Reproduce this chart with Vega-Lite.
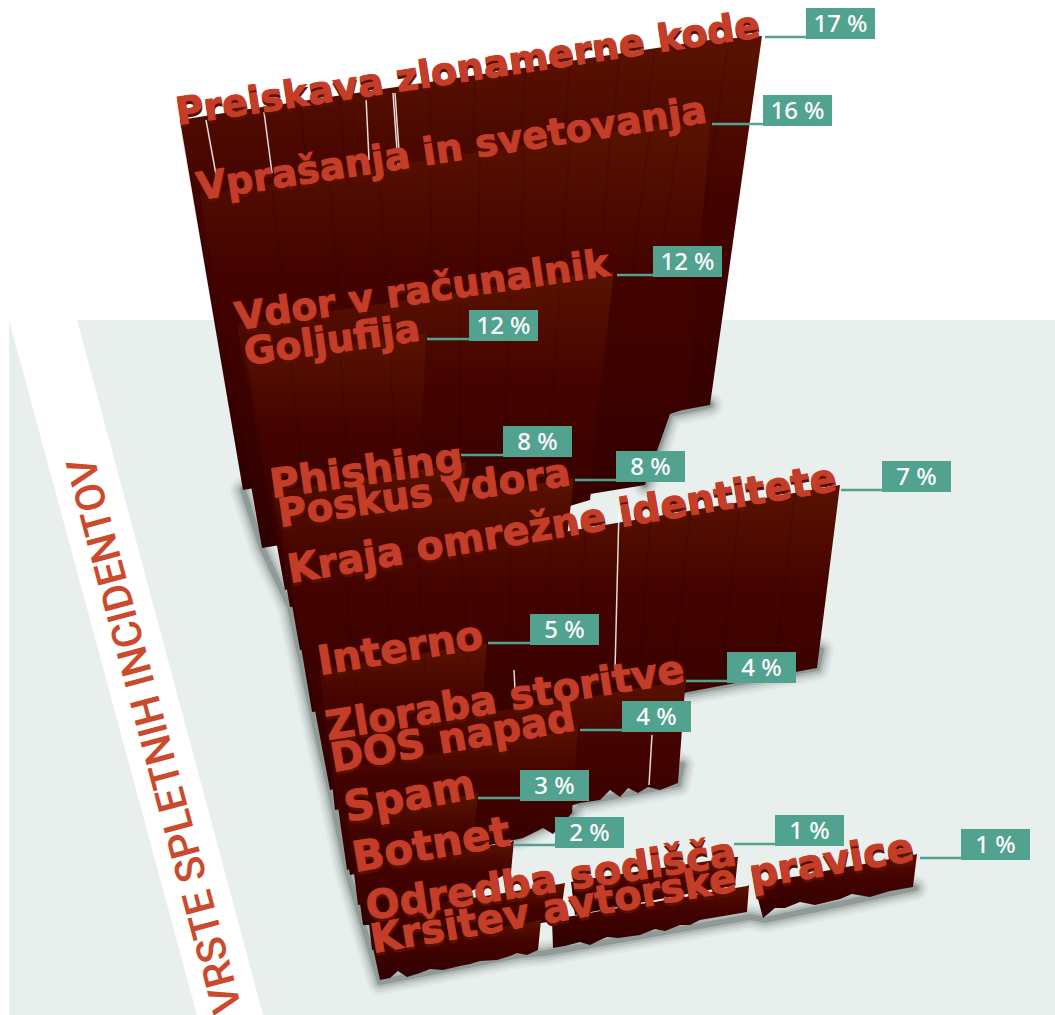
{
"$schema":"https://vega.github.io/schema/vega-lite/v6.json",
"width":1055,"height":1015,"padding":0,"autosize":{"type":"none"},
"background":"white",
"view":{"stroke":null},
"config":{"view":{"stroke":null}},
"datasets":{
"floor":[{"x":9,"x2":1055,"y":320,"y2":1015}],
"band":[{"y":320,"left":9,"right":77},{"y":1015,"left":197,"right":263}],
"heading":[{"t":"VRSTE SPLETNIH INCIDENTOV","x":82,"y":458}],
"edges":[
{"e":"a","x":243,"y":490},{"e":"a","x":262,"y":548},{"e":"a","x":290,"y":607},{"e":"a","x":312,"y":712},{"e":"a","x":330,"y":790},{"e":"a","x":347,"y":870},{"e":"a","x":363,"y":925},{"e":"a","x":380,"y":982},{"e":"a","x":520,"y":955},{"e":"a","x":545,"y":953},{"e":"a","x":750,"y":917},{"e":"a","x":765,"y":920},{"e":"a","x":915,"y":888},
{"e":"b","x":645,"y":485},{"e":"b","x":670,"y":414},{"e":"b","x":710,"y":405},
{"e":"c","x":688,"y":692},{"e":"c","x":817,"y":668},{"e":"c","x":821,"y":650},
{"e":"d","x":580,"y":803},{"e":"d","x":678,"y":784},{"e":"d","x":682,"y":765},
{"e":"f","x":517,"y":838},{"e":"f","x":572,"y":813}
],
"walls":[
{"p":"01","x":180,"top":120,"bottom":120},{"p":"01","x":243,"top":110,"bottom":490},{"p":"01","x":710,"top":40,"bottom":405},{"p":"01","x":762,"top":36,"bottom":36},
{"p":"02","x":200,"top":195,"bottom":195},{"p":"02","x":262,"top":185,"bottom":548},{"p":"02","x":645,"top":127,"bottom":485},{"p":"02","x":670,"top":123,"bottom":414},{"p":"02","x":688,"top":125,"bottom":408},{"p":"02","x":710,"top":122,"bottom":122},
{"p":"03","x":237,"top":325,"bottom":325},{"p":"03","x":285,"top":318,"bottom":590},{"p":"03","x":590,"top":273,"bottom":500},{"p":"03","x":614,"top":272,"bottom":272},
{"p":"04","x":246,"top":358,"bottom":358},{"p":"04","x":290,"top":352,"bottom":607},{"p":"04","x":415,"top":335,"bottom":590},{"p":"04","x":426,"top":333,"bottom":333},
{"p":"05","x":272,"top":492,"bottom":492},{"p":"05","x":300,"top":488,"bottom":650},{"p":"05","x":450,"top":465,"bottom":630},{"p":"05","x":466,"top":462,"bottom":462},
{"p":"06","x":280,"top":522,"bottom":522},{"p":"06","x":312,"top":517,"bottom":712},{"p":"06","x":550,"top":482,"bottom":680},{"p":"06","x":574,"top":478,"bottom":478},
{"p":"07","x":290,"top":578,"bottom":578},{"p":"07","x":330,"top":571,"bottom":790},{"p":"07","x":688,"top":511,"bottom":692},{"p":"07","x":817,"top":489,"bottom":668},{"p":"07","x":840,"top":485,"bottom":485},
{"p":"08","x":320,"top":670,"bottom":670},{"p":"08","x":335,"top":667,"bottom":810},{"p":"08","x":475,"top":645,"bottom":790},{"p":"08","x":487,"top":643,"bottom":643},
{"p":"09","x":328,"top":738,"bottom":738},{"p":"09","x":347,"top":735,"bottom":870},{"p":"09","x":580,"top":698,"bottom":803},{"p":"09","x":600,"top":695,"bottom":800},{"p":"09","x":610,"top":693,"bottom":790},{"p":"09","x":620,"top":691,"bottom":797},{"p":"09","x":628,"top":690,"bottom":788},{"p":"09","x":638,"top":688,"bottom":793},{"p":"09","x":648,"top":686,"bottom":787},{"p":"09","x":660,"top":685,"bottom":790},{"p":"09","x":678,"top":681,"bottom":783},{"p":"09","x":686,"top":676,"bottom":676},
{"p":"10","x":333,"top":770,"bottom":770},{"p":"10","x":350,"top":768,"bottom":875},{"p":"10","x":523,"top":738,"bottom":838},{"p":"10","x":543,"top":735,"bottom":828},{"p":"10","x":553,"top":733,"bottom":834},{"p":"10","x":572,"top":728,"bottom":813},{"p":"10","x":578,"top":724,"bottom":724},
{"p":"11","x":347,"top":818,"bottom":818},{"p":"11","x":358,"top":816,"bottom":905},{"p":"11","x":470,"top":795,"bottom":880},{"p":"11","x":478,"top":793,"bottom":793},
{"p":"12","x":355,"top":868,"bottom":868},{"p":"12","x":363,"top":866,"bottom":925},{"p":"12","x":400,"top":860,"bottom":925},{"p":"12","x":511,"top":842,"bottom":872},{"p":"12","x":514,"top":840,"bottom":840},
{"p":"13","x":368,"top":915,"bottom":915},{"p":"13","x":372,"top":914,"bottom":950},{"p":"13","x":560,"top":884,"bottom":920},{"p":"13","x":565,"top":883,"bottom":883},
{"p":"14","x":571,"top":882,"bottom":882},{"p":"14","x":575,"top":881,"bottom":915},{"p":"14","x":735,"top":857,"bottom":885},{"p":"14","x":738,"top":857,"bottom":857},
{"p":"15","x":373,"top":948,"bottom":948},{"p":"15","x":380,"top":947,"bottom":980},{"p":"15","x":390,"top":945,"bottom":978},{"p":"15","x":398,"top":944,"bottom":971},{"p":"15","x":407,"top":942,"bottom":977},{"p":"15","x":420,"top":940,"bottom":973},{"p":"15","x":430,"top":938,"bottom":969},{"p":"15","x":443,"top":936,"bottom":970},{"p":"15","x":460,"top":933,"bottom":966},{"p":"15","x":470,"top":932,"bottom":964},{"p":"15","x":480,"top":930,"bottom":961},{"p":"15","x":497,"top":928,"bottom":960},{"p":"15","x":510,"top":926,"bottom":956},{"p":"15","x":517,"top":924,"bottom":953},{"p":"15","x":527,"top":923,"bottom":955},{"p":"15","x":538,"top":921,"bottom":950},{"p":"15","x":541,"top":920,"bottom":920},
{"p":"16","x":552,"top":920,"bottom":920},{"p":"16","x":553,"top":919,"bottom":948},{"p":"16","x":565,"top":917,"bottom":946},{"p":"16","x":580,"top":915,"bottom":942},{"p":"16","x":590,"top":913,"bottom":945},{"p":"16","x":600,"top":911,"bottom":940},{"p":"16","x":607,"top":910,"bottom":937},{"p":"16","x":618,"top":908,"bottom":938},{"p":"16","x":640,"top":904,"bottom":935},{"p":"16","x":655,"top":902,"bottom":929},{"p":"16","x":665,"top":900,"bottom":931},{"p":"16","x":680,"top":898,"bottom":925},{"p":"16","x":690,"top":896,"bottom":925},{"p":"16","x":700,"top":894,"bottom":920},{"p":"16","x":747,"top":886,"bottom":912},{"p":"16","x":749,"top":885,"bottom":885},
{"p":"17","x":754,"top":884,"bottom":884},{"p":"17","x":763,"top":882,"bottom":918},{"p":"17","x":775,"top":880,"bottom":908},{"p":"17","x":785,"top":878,"bottom":908},{"p":"17","x":800,"top":876,"bottom":902},{"p":"17","x":815,"top":873,"bottom":905},{"p":"17","x":840,"top":868,"bottom":899},{"p":"17","x":852,"top":866,"bottom":894},{"p":"17","x":870,"top":863,"bottom":897},{"p":"17","x":890,"top":859,"bottom":891},{"p":"17","x":913,"top":855,"bottom":887},{"p":"17","x":917,"top":854,"bottom":854}
],
"seams":[
{"x":181,"y":125,"x2":244,"y2":490},{"x":300,"y":100,"x2":307,"y2":175},{"x":340,"y":95,"x2":345,"y2":170},{"x":430,"y":83,"x2":431,"y2":158},{"x":475,"y":76,"x2":474,"y2":150},{"x":525,"y":68,"x2":521,"y2":143},{"x":570,"y":61,"x2":564,"y2":136},{"x":620,"y":54,"x2":612,"y2":130},{"x":655,"y":49,"x2":645,"y2":125},{"x":728,"y":42,"x2":692,"y2":300},
{"x":272,"y":190,"x2":286,"y2":310},{"x":330,"y":180,"x2":339,"y2":300},{"x":380,"y":172,"x2":386,"y2":295},{"x":430,"y":165,"x2":432,"y2":290},{"x":480,"y":158,"x2":478,"y2":285},{"x":525,"y":150,"x2":519,"y2":280},{"x":570,"y":143,"x2":560,"y2":278},{"x":610,"y":137,"x2":600,"y2":275},{"x":650,"y":130,"x2":630,"y2":290},{"x":680,"y":128,"x2":654,"y2":300},
{"x":614,"y":275,"x2":590,"y2":480},{"x":460,"y":305,"x2":460,"y2":455},{"x":510,"y":298,"x2":503,"y2":460},{"x":560,"y":290,"x2":547,"y2":465},
{"x":290,"y":355,"x2":304,"y2":490},{"x":340,"y":348,"x2":349,"y2":480},{"x":390,"y":340,"x2":395,"y2":470},
{"x":345,"y":572,"x2":356,"y2":690},{"x":385,"y":565,"x2":395,"y2":680},{"x":418,"y":560,"x2":425,"y2":670},{"x":462,"y":553,"x2":468,"y2":660},{"x":510,"y":545,"x2":512,"y2":660},{"x":550,"y":538,"x2":548,"y2":670},{"x":585,"y":532,"x2":580,"y2":670},{"x":650,"y":520,"x2":640,"y2":670},{"x":690,"y":512,"x2":675,"y2":660},{"x":740,"y":503,"x2":722,"y2":665},{"x":795,"y":494,"x2":775,"y2":668}
],
"slits":[
{"x":206,"y":120,"x2":217,"y2":180},{"x":264,"y":112,"x2":272,"y2":173},{"x":366,"y":97,"x2":369,"y2":160},{"x":393,"y":93,"x2":398,"y2":165},{"x":395,"y":93,"x2":400,"y2":165},
{"x":619,"y":510,"x2":615,"y2":670},{"x":652,"y":735,"x2":649,"y2":785},{"x":514,"y":670,"x2":515,"y2":690}
],
"incidents":[
{"name":"Preiskava zlonamerne kode","share":17,"label":"17 %","x":178,"y":125,"boxX":840.5,"boxY":23.5,"lineFrom":765,"lineY":37},
{"name":"Vprašanja in svetovanja","share":16,"label":"16 %","x":199,"y":200,"boxX":797.5,"boxY":110.5,"lineFrom":712,"lineY":124},
{"name":"Vdor v računalnik","share":12,"label":"12 %","x":237,"y":330,"boxX":687.5,"boxY":261.5,"lineFrom":617,"lineY":275},
{"name":"Goljufija","share":12,"label":"12 %","x":246,"y":365,"boxX":503.5,"boxY":325.5,"lineFrom":427,"lineY":339},
{"name":"Phishing","share":8,"label":"8 %","x":272,"y":498,"boxX":537.5,"boxY":441.5,"lineFrom":461,"lineY":455},
{"name":"Poskus vdora","share":8,"label":"8 %","x":280,"y":527,"boxX":650.5,"boxY":466.5,"lineFrom":575,"lineY":480},
{"name":"Kraja omrežne identitete","share":7,"label":"7 %","x":290,"y":583,"boxX":916.5,"boxY":476.5,"lineFrom":841,"lineY":490},
{"name":"Interno","share":5,"label":"5 %","x":320,"y":675,"boxX":564.5,"boxY":629.5,"lineFrom":488,"lineY":643},
{"name":"Zloraba storitve","share":4,"label":"4 %","x":328,"y":740,"boxX":761.5,"boxY":667.5,"lineFrom":686,"lineY":681},
{"name":"DOS napad","share":4,"label":"4 %","x":333,"y":772,"boxX":656.5,"boxY":716.5,"lineFrom":580,"lineY":730},
{"name":"Spam","share":3,"label":"3 %","x":347,"y":822,"boxX":554.5,"boxY":785.5,"lineFrom":478,"lineY":798},
{"name":"Botnet","share":2,"label":"2 %","x":355,"y":872,"boxX":589.5,"boxY":832.5,"lineFrom":513,"lineY":845},
{"name":"Odredba sodišča","share":1,"label":"1 %","x":368,"y":920,"boxX":809.5,"boxY":830.5,"lineFrom":734,"lineY":844},
{"name":"Kršitev avtorske pravice","share":1,"label":"1 %","x":373,"y":953,"boxX":995.5,"boxY":844.5,"lineFrom":920,"lineY":858}
]},
"layer":[
{"data":{"name":"floor"},"mark":{"type":"rect","color":"#e9efed"},"encoding":{
"x":{"field":"x","type":"quantitative","scale":{"domain":[0,1055]},"axis":null},"x2":{"field":"x2"},
"y":{"field":"y","type":"quantitative","scale":{"domain":[1015,0]},"axis":null},"y2":{"field":"y2"}}},
{"data":{"name":"band"},"mark":{"type":"area","orient":"horizontal","color":"white"},"encoding":{
"x":{"field":"left","type":"quantitative","scale":{"domain":[0,1055]},"axis":null,"stack":false},"x2":{"field":"right"},
"y":{"field":"y","type":"quantitative","scale":{"domain":[1015,0]},"axis":null}}},
{"data":{"name":"heading"},"mark":{"type":"text","angle":255,"align":"right","baseline":"middle","font":"Roboto","fontWeight":500,"fontSize":41,"color":"#cb4a2c"},"encoding":{
"text":{"field":"t"},
"x":{"field":"x","type":"quantitative","scale":{"domain":[0,1055]},"axis":null},
"y":{"field":"y","type":"quantitative","scale":{"domain":[1015,0]},"axis":null}}},
{"data":{"name":"edges"},"mark":{"type":"line","color":"#20302f","strokeWidth":26,"opacity":0.04,"strokeCap":"round","strokeJoin":"round"},"encoding":{
"detail":{"field":"e"},
"x":{"field":"x","type":"quantitative","scale":{"domain":[0,1055]},"axis":null},
"y":{"field":"y","type":"quantitative","scale":{"domain":[1015,0]},"axis":null}}},
{"data":{"name":"edges"},"mark":{"type":"line","color":"#20302f","strokeWidth":21,"opacity":0.06,"strokeCap":"round","strokeJoin":"round"},"encoding":{
"detail":{"field":"e"},
"x":{"field":"x","type":"quantitative","scale":{"domain":[0,1055]},"axis":null},
"y":{"field":"y","type":"quantitative","scale":{"domain":[1015,0]},"axis":null}}},
{"data":{"name":"edges"},"mark":{"type":"line","color":"#20302f","strokeWidth":16,"opacity":0.08,"strokeCap":"round","strokeJoin":"round"},"encoding":{
"detail":{"field":"e"},
"x":{"field":"x","type":"quantitative","scale":{"domain":[0,1055]},"axis":null},
"y":{"field":"y","type":"quantitative","scale":{"domain":[1015,0]},"axis":null}}},
{"data":{"name":"edges"},"mark":{"type":"line","color":"#20302f","strokeWidth":11,"opacity":0.13,"strokeCap":"round","strokeJoin":"round"},"encoding":{
"detail":{"field":"e"},
"x":{"field":"x","type":"quantitative","scale":{"domain":[0,1055]},"axis":null},
"y":{"field":"y","type":"quantitative","scale":{"domain":[1015,0]},"axis":null}}},
{"data":{"name":"edges"},"mark":{"type":"line","color":"#20302f","strokeWidth":6,"opacity":0.22,"strokeCap":"round","strokeJoin":"round"},"encoding":{
"detail":{"field":"e"},
"x":{"field":"x","type":"quantitative","scale":{"domain":[0,1055]},"axis":null},
"y":{"field":"y","type":"quantitative","scale":{"domain":[1015,0]},"axis":null}}},
{"data":{"name":"walls"},"mark":{"type":"area","orient":"vertical","color":{"gradient":"linear","x1":0,"y1":0,"x2":0,"y2":1,"stops":[{"offset":0,"color":"#5a1300"},{"offset":0.35,"color":"#440300"},{"offset":1,"color":"#2f0000"}]}},"encoding":{
"detail":{"field":"p"},
"x":{"field":"x","type":"quantitative","scale":{"domain":[0,1055]},"axis":null},
"y":{"field":"top","type":"quantitative","scale":{"domain":[1015,0]},"axis":null,"stack":false},"y2":{"field":"bottom"}}},
{"data":{"name":"seams"},"mark":{"type":"rule","color":"#260000","strokeWidth":2,"opacity":0.16},"encoding":{
"x":{"field":"x","type":"quantitative","scale":{"domain":[0,1055]},"axis":null},"x2":{"field":"x2"},
"y":{"field":"y","type":"quantitative","scale":{"domain":[1015,0]},"axis":null},"y2":{"field":"y2"}}},
{"data":{"name":"slits"},"mark":{"type":"rule","color":"#ffffff","strokeWidth":1.5,"opacity":0.85},"encoding":{
"x":{"field":"x","type":"quantitative","scale":{"domain":[0,1055]},"axis":null},"x2":{"field":"x2"},
"y":{"field":"y","type":"quantitative","scale":{"domain":[1015,0]},"axis":null},"y2":{"field":"y2"}}},
{"data":{"name":"incidents"},"mark":{"type":"rule","color":"#51a28e","strokeWidth":2.5},"encoding":{
"x":{"field":"lineFrom","type":"quantitative","scale":{"domain":[0,1055]},"axis":null},"x2":{"field":"boxX"},
"y":{"field":"lineY","type":"quantitative","scale":{"domain":[1015,0]},"axis":null}}},
{"data":{"name":"incidents"},"mark":{"type":"text","dy":3,"align":"left","baseline":"alphabetic","font":"DejaVu Sans","fontWeight":"bold","color":"#5a1000","stroke":"#5a1000","strokeWidth":1},"encoding":{
"text":{"field":"name"},
"x":{"field":"x","type":"quantitative","scale":{"domain":[0,1055]},"axis":null},
"y":{"field":"y","type":"quantitative","scale":{"domain":[1015,0]},"axis":null},
"angle":{"field":"name","type":"nominal","legend":null,"scale":{"type":"ordinal","domain":["Preiskava zlonamerne kode","Vprašanja in svetovanja","Vdor v računalnik","Goljufija","Phishing","Poskus vdora","Kraja omrežne identitete","Interno","Zloraba storitve","DOS napad","Spam","Botnet","Odredba sodišča","Kršitev avtorske pravice"],"range":[351.4,351.3,351.7,352,351.8,351.8,350.4,350.7,350.8,350.2,349.5,350.2,351.5,350.3]}},
"size":{"field":"name","type":"nominal","legend":null,"scale":{"type":"ordinal","domain":["Preiskava zlonamerne kode","Vprašanja in svetovanja","Vdor v računalnik","Goljufija","Phishing","Poskus vdora","Kraja omrežne identitete","Interno","Zloraba storitve","DOS napad","Spam","Botnet","Odredba sodišča","Kršitev avtorske pravice"],"range":[38,38,38,38,40,39,39.4,40.4,40,39.7,42,42,39.8,40]}}}},
{"data":{"name":"incidents"},"mark":{"type":"text","align":"left","baseline":"alphabetic","font":"DejaVu Sans","fontWeight":"bold","color":"#c43d29","stroke":"#c43d29","strokeWidth":1},"encoding":{
"text":{"field":"name"},
"x":{"field":"x","type":"quantitative","scale":{"domain":[0,1055]},"axis":null},
"y":{"field":"y","type":"quantitative","scale":{"domain":[1015,0]},"axis":null},
"angle":{"field":"name","type":"nominal","legend":null,"scale":{"type":"ordinal","domain":["Preiskava zlonamerne kode","Vprašanja in svetovanja","Vdor v računalnik","Goljufija","Phishing","Poskus vdora","Kraja omrežne identitete","Interno","Zloraba storitve","DOS napad","Spam","Botnet","Odredba sodišča","Kršitev avtorske pravice"],"range":[351.4,351.3,351.7,352,351.8,351.8,350.4,350.7,350.8,350.2,349.5,350.2,351.5,350.3]}},
"size":{"field":"name","type":"nominal","legend":null,"scale":{"type":"ordinal","domain":["Preiskava zlonamerne kode","Vprašanja in svetovanja","Vdor v računalnik","Goljufija","Phishing","Poskus vdora","Kraja omrežne identitete","Interno","Zloraba storitve","DOS napad","Spam","Botnet","Odredba sodišča","Kršitev avtorske pravice"],"range":[38,38,38,38,40,39,39.4,40.4,40,39.7,42,42,39.8,40]}}}},
{"data":{"name":"incidents"},"mark":{"type":"rect","width":69,"height":31,"color":"#51a28e"},"encoding":{
"x":{"field":"boxX","type":"quantitative","scale":{"domain":[0,1055]},"axis":null},
"y":{"field":"boxY","type":"quantitative","scale":{"domain":[1015,0]},"axis":null}}},
{"data":{"name":"incidents"},"mark":{"type":"text","align":"center","baseline":"middle","font":"Noto Sans","fontWeight":500,"fontSize":24,"color":"white","dy":1},"encoding":{
"text":{"field":"label"},
"x":{"field":"boxX","type":"quantitative","scale":{"domain":[0,1055]},"axis":null},
"y":{"field":"boxY","type":"quantitative","scale":{"domain":[1015,0]},"axis":null}}}
]
}
